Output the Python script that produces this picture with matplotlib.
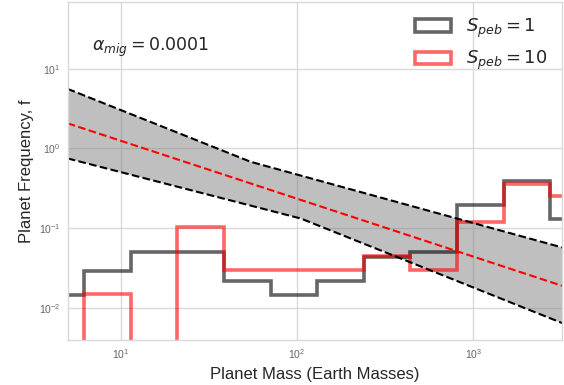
import numpy as np
import matplotlib
matplotlib.use('Agg')
import matplotlib.pyplot as plt
from matplotlib.patches import Patch

# log-spaced mass bins (Earth masses)
BIN_EDGES = [3.38, 6.21, 11.40, 20.96, 38.52, 70.8, 130.1, 239.1, 439.4, 807.5, 1484.0, 2727.0, 5012.0]

# planet frequency per bin for the two pebble-size runs
FREQ_SPEB_1 = [0.0144, 0.0288, 0.0504, 0.0504, 0.0216, 0.0144, 0.0216, 0.0432, 0.0504, 0.194, 0.389, 0.130]
FREQ_SPEB_10 = [0.0, 0.0149, 0.0, 0.104, 0.0298, 0.0298, 0.0298, 0.0447, 0.0298, 0.121, 0.360, 0.256]

# observed occurrence fit and its uncertainty envelope
FIT_MASS = [5.0, 3200.0]
FIT_FREQ = [2.07, 0.0188]
UPPER_MASS = [5.0, 54.6, 3200.0]
UPPER_FREQ = [5.6, 0.68, 0.057]
LOWER_MASS = [5.0, 105.0, 3200.0]
LOWER_FREQ = [0.75, 0.132, 0.0064]

plt.style.use('seaborn-v0_8-whitegrid')
plt.rcParams['font.family'] = ['Liberation Sans', 'DejaVu Sans']

fig = plt.figure(figsize=(5.64, 3.85), dpi=100)
ax = fig.add_axes([0.120, 0.116, 0.877, 0.880])

# shaded band between the upper and lower bounds
band_x = UPPER_MASS + LOWER_MASS[::-1]
band_y = UPPER_FREQ + LOWER_FREQ[::-1]
ax.fill(band_x, band_y, color='gray', alpha=0.5, lw=0)
ax.plot(UPPER_MASS, UPPER_FREQ, 'k--', lw=1.5)
ax.plot(LOWER_MASS, LOWER_FREQ, 'k--', lw=1.5)
ax.plot(FIT_MASS, FIT_FREQ, 'r--', lw=1.5)

ax.stairs(FREQ_SPEB_1, BIN_EDGES, color='k', alpha=0.6, lw=2.6)
ax.stairs(FREQ_SPEB_10, BIN_EDGES, color='r', alpha=0.6, lw=2.6)

ax.set_xscale('log')
ax.set_yscale('log')
ax.set_xlim(5.0, 3190)
ax.set_ylim(0.0039, 70)

ax.text(0.05, 0.866, r'$\alpha_{mig} = 0.0001$', transform=ax.transAxes,
        fontsize=12.5, va='center', ha='left', color='.15')

ax.set_xlabel('Planet Mass (Earth Masses)', fontsize=12, color='.15')
ax.set_ylabel('Planet Frequency, f', fontsize=12, color='.15')
ax.tick_params(axis='both', which='major', labelsize=7.5, colors='.4', length=0, pad=5)
ax.tick_params(axis='both', which='minor', length=0)
ax.grid(True, which='major', color='.85', lw=1)
for spine in ax.spines.values():
    spine.set_color('.85')

# step-histogram style handles for the legend
handles = [
    Patch(facecolor='none', edgecolor='k', alpha=0.6, lw=2.6, label=r'$S_{peb} = 1$'),
    Patch(facecolor='none', edgecolor='r', alpha=0.6, lw=2.6, label=r'$S_{peb} = 10$'),
]
leg = ax.legend(handles=handles, loc='upper right', fontsize=13, frameon=False,
                borderaxespad=0.45)
for t in leg.get_texts():
    t.set_color('.15')

fig.savefig('out.png', dpi=100)
